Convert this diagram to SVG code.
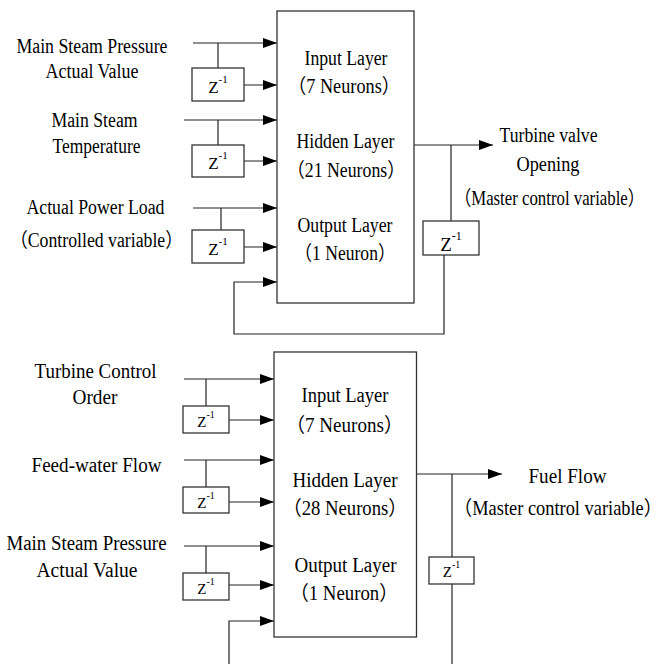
<svg xmlns="http://www.w3.org/2000/svg" width="667" height="664" viewBox="0 0 667 664">
<defs>
<marker id="arr" markerUnits="userSpaceOnUse" markerWidth="14" markerHeight="10" refX="14" refY="5" orient="auto" viewBox="0 0 14 10">
<path d="M0,0 L14,5 L0,10 z" fill="#000"/>
</marker>
<style>
.t{font-family:"Liberation Serif","Noto Sans CJK SC",serif;font-size:20px;fill:#000;text-anchor:middle}
.z{font-family:"Liberation Serif",serif;fill:#000;text-anchor:middle}
.box{fill:#fff;stroke:#333;stroke-width:1.3}
.ln{fill:none;stroke:#222;stroke-width:1.2}
.ar{fill:none;stroke:#222;stroke-width:1.2;marker-end:url(#arr)}
</style>
</defs>
<rect width="667" height="664" fill="#fff"/>

<g id="connectors">
<line class="ar" x1="193" y1="43" x2="277" y2="43"/>
<line class="ln" x1="218" y1="43" x2="218" y2="68"/>
<line class="ar" x1="244" y1="85" x2="277" y2="85"/>
<line class="ar" x1="184" y1="120" x2="277" y2="120"/>
<line class="ln" x1="218" y1="120" x2="218" y2="145"/>
<line class="ar" x1="244" y1="161" x2="277" y2="161"/>
<line class="ar" x1="193" y1="208" x2="277" y2="208"/>
<line class="ln" x1="221" y1="208" x2="221" y2="230"/>
<line class="ar" x1="244" y1="247" x2="277" y2="247"/>
<polyline class="ar" points="444,255 444,334 234,334 234,282 277,282"/>
<line class="ar" x1="414" y1="145" x2="493" y2="145"/>
<line class="ln" x1="451" y1="145" x2="451" y2="221"/>
<line class="ar" x1="184" y1="379" x2="274" y2="379"/>
<line class="ln" x1="206" y1="379" x2="206" y2="406"/>
<line class="ar" x1="229" y1="420" x2="274" y2="420"/>
<line class="ar" x1="184" y1="460" x2="274" y2="460"/>
<line class="ln" x1="206" y1="460" x2="206" y2="487"/>
<line class="ar" x1="229" y1="502" x2="274" y2="502"/>
<line class="ar" x1="184" y1="546" x2="274" y2="546"/>
<line class="ln" x1="206" y1="546" x2="206" y2="573"/>
<line class="ar" x1="229" y1="585" x2="274" y2="585"/>
<polyline class="ar" points="229,664 229,621 274,621"/>
<line class="ar" x1="416" y1="474" x2="502" y2="474"/>
<line class="ln" x1="452" y1="474" x2="452" y2="557"/>
<line class="ln" x1="452" y1="584" x2="452" y2="664"/>
</g>

<g id="net1">
<rect class="box" x="277" y="11" width="137" height="292"/>
<text class="t" x="346" y="65" textLength="83" lengthAdjust="spacingAndGlyphs">Input Layer</text>
<text class="t" x="344" y="93" textLength="112" lengthAdjust="spacingAndGlyphs">（7 Neurons）</text>
<text class="t" x="345.5" y="148" textLength="98" lengthAdjust="spacingAndGlyphs">Hidden Layer</text>
<text class="t" x="346" y="177" textLength="118" lengthAdjust="spacingAndGlyphs">（21 Neurons）</text>
<text class="t" x="345" y="232" textLength="95" lengthAdjust="spacingAndGlyphs">Output Layer</text>
<text class="t" x="345" y="260" textLength="101" lengthAdjust="spacingAndGlyphs">（1 Neuron）</text>
</g>

<g id="z1a"><rect class="box" x="192" y="68" width="52" height="33"/><text class="z" x="218" y="93" font-size="17">Z<tspan dy="-10" font-size="11">-1</tspan></text></g>
<g id="z1b"><rect class="box" x="192" y="145" width="52" height="32"/><text class="z" x="218" y="169" font-size="17">Z<tspan dy="-10" font-size="11">-1</tspan></text></g>
<g id="z1c"><rect class="box" x="192" y="230" width="52" height="33"/><text class="z" x="218" y="255" font-size="17">Z<tspan dy="-10" font-size="11">-1</tspan></text></g>
<g id="z1out"><rect class="box" x="423" y="221" width="56" height="34"/><text class="z" x="451" y="251" font-size="19">Z<tspan dy="-11" font-size="12">-1</tspan></text></g>

<g id="lbl1a">
<text class="t" x="92" y="53" textLength="151" lengthAdjust="spacingAndGlyphs">Main Steam Pressure</text>
<text class="t" x="92" y="78" textLength="93" lengthAdjust="spacingAndGlyphs">Actual Value</text>
</g>
<g id="lbl1b">
<text class="t" x="94.5" y="127" textLength="86" lengthAdjust="spacingAndGlyphs">Main Steam</text>
<text class="t" x="96.5" y="153" textLength="88" lengthAdjust="spacingAndGlyphs">Temperature</text>
</g>
<g id="lbl1c">
<text class="t" x="95.5" y="214" textLength="138" lengthAdjust="spacingAndGlyphs">Actual Power Load</text>
<text class="t" x="96.5" y="247" textLength="173" lengthAdjust="spacingAndGlyphs">（Controlled variable）</text>
</g>
<g id="lbl1out">
<text class="t" x="548.5" y="142" textLength="98" lengthAdjust="spacingAndGlyphs">Turbine valve</text>
<text class="t" x="548" y="171" textLength="63" lengthAdjust="spacingAndGlyphs">Opening</text>
<text class="t" transform="translate(549.5,205) scale(0.84,1)" x="0" y="0">（Master control variable）</text>
</g>

<g id="net2">
<rect class="box" x="274" y="352" width="142.5" height="285"/>
<text class="t" x="345" y="402" textLength="87" lengthAdjust="spacingAndGlyphs">Input Layer</text>
<text class="t" x="344.5" y="432" textLength="117" lengthAdjust="spacingAndGlyphs">（7 Neurons）</text>
<text class="t" x="345" y="487" textLength="105" lengthAdjust="spacingAndGlyphs">Hidden Layer</text>
<text class="t" x="345" y="515" textLength="124" lengthAdjust="spacingAndGlyphs">（28 Neurons）</text>
<text class="t" x="345.5" y="572" textLength="102" lengthAdjust="spacingAndGlyphs">Output Layer</text>
<text class="t" x="344" y="600" textLength="108" lengthAdjust="spacingAndGlyphs">（1 Neuron）</text>
</g>

<g id="z2a"><rect class="box" x="183" y="406" width="46" height="27"/><text class="z" x="206" y="427" font-size="15">Z<tspan dy="-9" font-size="10">-1</tspan></text></g>
<g id="z2b"><rect class="box" x="183" y="487" width="46" height="26"/><text class="z" x="206" y="508" font-size="15">Z<tspan dy="-9" font-size="10">-1</tspan></text></g>
<g id="z2c"><rect class="box" x="183" y="573" width="46" height="27"/><text class="z" x="206" y="594" font-size="15">Z<tspan dy="-9" font-size="10">-1</tspan></text></g>
<g id="z2out"><rect class="box" x="429" y="557" width="45" height="27"/><text class="z" x="451.5" y="577" font-size="15">Z<tspan dy="-9" font-size="10">-1</tspan></text></g>

<g id="lbl2a">
<text class="t" x="95.5" y="378" textLength="122" lengthAdjust="spacingAndGlyphs">Turbine Control</text>
<text class="t" x="95" y="404" textLength="45" lengthAdjust="spacingAndGlyphs">Order</text>
</g>
<g id="lbl2b">
<text class="t" x="96.5" y="472" textLength="130" lengthAdjust="spacingAndGlyphs">Feed-water Flow</text>
</g>
<g id="lbl2c">
<text class="t" x="86.5" y="550" textLength="160" lengthAdjust="spacingAndGlyphs">Main Steam Pressure</text>
<text class="t" x="87" y="577" textLength="101" lengthAdjust="spacingAndGlyphs">Actual Value</text>
</g>
<g id="lbl2out">
<text class="t" x="567.5" y="483" textLength="78" lengthAdjust="spacingAndGlyphs">Fuel Flow</text>
<text class="t" transform="translate(558,515) scale(0.92,1)" x="0" y="0">（Master control variable）</text>
</g>
</svg>
